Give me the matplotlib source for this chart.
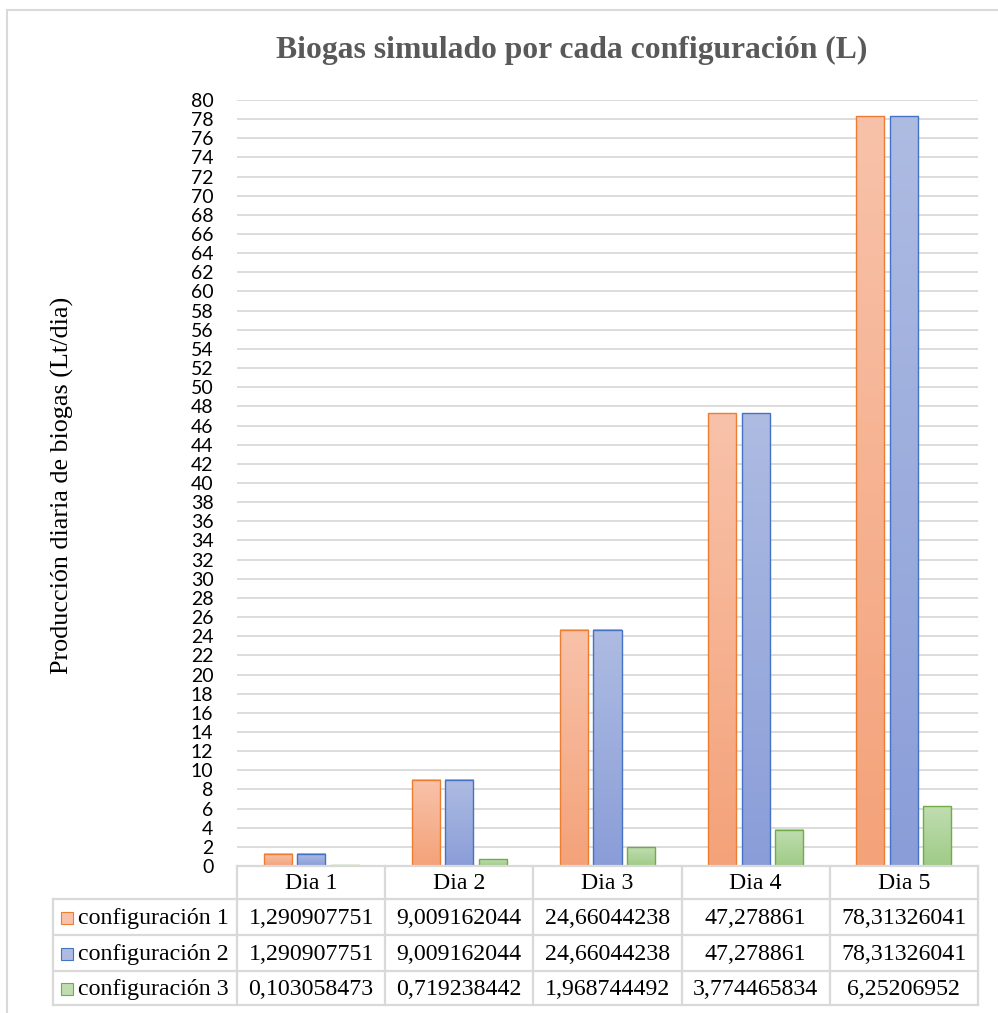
import numpy as np
import matplotlib
matplotlib.use('Agg')
import matplotlib.pyplot as plt
from matplotlib.colors import LinearSegmentedColormap
from matplotlib.patches import Rectangle

# data
dias = ["Dia 1", "Dia 2", "Dia 3", "Dia 4", "Dia 5"]
series_names = ["configuración 1", "configuración 2", "configuración 3"]
config1 = [1.290907751, 9.009162044, 24.66044238, 47.278861, 78.31326041]
config2 = [1.290907751, 9.009162044, 24.66044238, 47.278861, 78.31326041]
config3 = [0.103058473, 0.719238442, 1.968744492, 3.774465834, 6.25206952]
y_ticks = list(range(0, 82, 2))

# style
W, H = 998, 1013
EDGE = ["#ED7D31", "#4472C4", "#70AD47"]
TOP = ["#F8C2AA", "#AEBCE2", "#C0DDB0"]
BOTTOM = ["#F4A279", "#8A9DD8", "#9FCB87"]
GRID = "#D9D9D9"
SERIF = "Liberation Serif"
TABLE_FS = 17.2

fig = plt.figure(figsize=(W / 100, H / 100), dpi=100)

# plot area in pixel layout
px_left, px_right, px_top, px_bot = 237, 978, 100, 866
ax = fig.add_axes([px_left / W, 1 - px_bot / H, (px_right - px_left) / W, (px_bot - px_top) / H])
ax.set_xlim(-0.5, len(dias) - 0.5)
ax.set_ylim(0, 80)
ax.set_yticks(y_ticks)
ax.set_yticklabels([str(t) for t in y_ticks], fontsize=14, family="Lato", color="#000000")
ax.tick_params(axis="y", length=0, pad=17)
ax.set_xticks([])
for s in ax.spines.values():
    s.set_visible(False)
ax.yaxis.grid(True, color=GRID, linewidth=1.3)
ax.set_axisbelow(True)

bar_w = 0.19
step = 0.226
grad = np.linspace(0, 1, 256).reshape(-1, 1)
for k, vals in enumerate([config1, config2, config3]):
    cmap = LinearSegmentedColormap.from_list(f"g{k}", [BOTTOM[k], TOP[k]])
    x = np.arange(len(dias)) + (k - 1) * step
    bars = ax.bar(x, vals, width=bar_w, facecolor="none", edgecolor=EDGE[k], linewidth=1.0, zorder=3)
    for b in bars:
        x0, w, h = b.get_x(), b.get_width(), b.get_height()
        ax.imshow(grad, extent=[x0, x0 + w, 0, h], origin="lower", aspect="auto",
                  cmap=cmap, zorder=2, interpolation="bilinear")
ax.set_xlim(-0.5, len(dias) - 0.5)
ax.set_ylim(0, 80)

# overlay in pixel coords for title, label, border, table
ov = fig.add_axes([0, 0, 1, 1], zorder=5)
ov.set_xlim(0, W)
ov.set_ylim(H, 0)
ov.axis("off")
ov.patch.set_alpha(0)

ov.plot([7, 7, W], [H, 10, 10], color=GRID, linewidth=1.5, solid_joinstyle="miter")
ov.text(572, 50, "Biogas simulado por cada configuración (L)", ha="center", va="center",
        fontsize=22.8, fontweight="bold", color="#595959", family=SERIF)
ov.text(62, 485, "Producción diaria de biogas (Lt/dia)", rotation=90,
        ha="center", va="center", fontsize=18.8, color="#000000", family=SERIF)

# data table
col_w = (px_right - px_left) / len(dias)
cols = [px_left + i * col_w for i in range(len(dias) + 1)]
rows = [866, 899, 935, 971, 1005]
lab_left = 53
tl = dict(color=GRID, linewidth=1.6, solid_capstyle="projecting")
ov.plot([px_left, px_right], [rows[0], rows[0]], **tl)
for y in rows[1:]:
    ov.plot([lab_left, px_right], [y, y], **tl)
for x in cols:
    ov.plot([x, x], [rows[0], rows[-1]], **tl)
ov.plot([lab_left, lab_left], [rows[1], rows[-1]], **tl)

for i, d in enumerate(dias):
    ov.text((cols[i] + cols[i + 1]) / 2, (rows[0] + rows[1]) / 2 + 1, d, ha="center", va="center",
            fontsize=TABLE_FS, family=SERIF)
for r, (name, vals) in enumerate(zip(series_names, [config1, config2, config3])):
    yc = (rows[r + 1] + rows[r + 2]) / 2 + 1
    ov.add_patch(Rectangle((61, yc - 6.5), 12, 12, facecolor=TOP[r], edgecolor=EDGE[r], linewidth=0.8))
    ov.text(78, yc, name, ha="left", va="center", fontsize=TABLE_FS, family=SERIF)
    for i, v in enumerate(vals):
        txt = f"{v:.10g}".replace(".", ",")
        ov.text((cols[i] + cols[i + 1]) / 2, yc, txt, ha="center", va="center",
                fontsize=TABLE_FS, family=SERIF)

fig.savefig("out.png", dpi=100, facecolor="white")
